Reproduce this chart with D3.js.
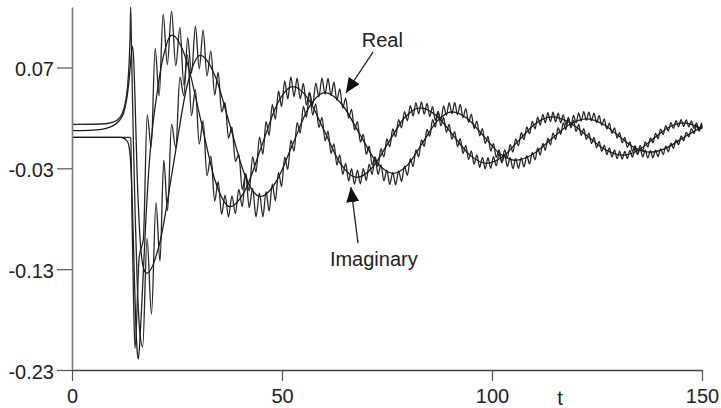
<!DOCTYPE html>
<html><head><meta charset="utf-8">
<script src="https://cdn.jsdelivr.net/npm/d3@7"></script>
<style>body{margin:0;background:#fff}svg{display:block}</style>
</head><body><svg id="c" width="721" height="408"></svg>
<script>
const xTicks = [0, 50, 100, 150];
const yTicks = [0.07, -0.03, -0.13, -0.23];
const yTickLabels = ["0.07", "-0.03", "-0.13", "-0.23"];

const realSmooth = [[0,0.0073],[4,0.0076],[7,0.0086],[9,0.0108],[10.5,0.0142],[11.5,0.0185],[12.3,0.025],[13.0,0.038],[13.6,0.058],[14.1,0.082],[14.4,0.091],[14.75,0.072],[15.1,0.025],[15.5,-0.035],[16.0,-0.085],[16.5,-0.115],[17.1,-0.13],[17.8,-0.134],[20.975,-0.1024],[24.15,-0.026],[27.325,0.0504],[30.5,0.082],[34.075,0.0615],[37.65,0.012],[41.225,-0.0375],[44.8,-0.058],[48.65,-0.0429],[52.5,-0.0065],[56.35,0.0299],[60.2,0.045],[64.275,0.0333],[68.35,0.005],[72.425,-0.0233],[76.5,-0.035],[80.0,-0.0261],[83.5,-0.0045],[87.0,0.0171],[90.5,0.026],[94.25,0.019],[98.0,0.002],[101.75,-0.015],[105.5,-0.022],[109.75,-0.016],[114.0,-0.0015],[118.25,0.013],[122.5,0.019],[126.275,0.0142],[130.05,0.0025],[133.825,-0.0092],[137.6,-0.014],[141.325,-0.0102],[145.05,-0.001],[148.775,0.0082],[150,0.0102]];

const imagSmooth = [[0,0.0007],[11.5,0.0007],[12.3,0.0],[12.9,-0.002],[13.4,-0.0052],[13.98,-0.025],[14.4,-0.07],[14.8,-0.13],[15.2,-0.185],[15.5,-0.21],[15.8,-0.219],[16.3,-0.19],[16.9,-0.14],[17.6,-0.08],[18.4,-0.025],[19.3,0.015],[20.2,0.043],[21.2,0.07],[22.3,0.09],[23.2,0.1],[23.8,0.102],[27.25,0.0771],[30.7,0.017],[34.15,-0.0431],[37.6,-0.068],[41.35,-0.0506],[45.1,-0.0085],[48.85,0.0336],[52.6,0.051],[56.4,0.0378],[60.2,0.006],[64.0,-0.0258],[67.8,-0.039],[71.575,-0.0289],[75.35,-0.0045],[79.125,0.0199],[82.9,0.030],[86.85,0.0219],[90.8,0.0025],[94.75,-0.0169],[98.7,-0.025],[102.575,-0.0183],[106.45,-0.002],[110.325,0.0143],[114.2,0.021],[118.45,0.0154],[122.7,0.002],[126.95,-0.0114],[131.2,-0.017],[134.775,-0.0123],[138.35,-0.001],[141.925,0.0103],[145.5,0.015],[148,0.0129],[150,0.0092]];

const realOscHead = [[0,0.0136],[5,0.0137],[8,0.0142],[9.5,0.0155],[10.8,0.018],[11.8,0.023],[12.6,0.033],[13.2,0.05],[13.6,0.075],[13.85,0.105],[13.97,0.13],[14.2,0.08],[14.6,0.0],[15.0,-0.07],[15.5,-0.14],[16.1,-0.19],[16.83,-0.207],[17.87,-0.0995],[18.92,-0.1746],[20.0,-0.064],[20.95,-0.122],[21.85,-0.022],[22.75,-0.072]];

const imagOscHead = [[0,0.0007],[13.7,0.0007],[13.98,0.0],[14.3,-0.08],[14.65,-0.16],[15.0,-0.2085],[16.0,-0.118],[17.0,-0.10],[17.9,0.023],[18.85,-0.009],[19.8,0.089],[20.75,0.042],[21.7,0.123],[22.7,0.073]];

const rippleT = [23.7,24.7,25.7,26.62,27.54,28.46,29.38,30.30,31.22,32.14,33.06,33.98,
34.80,35.62,36.44,37.26,38.08,38.90,39.72,40.54,41.36,42.18,43.00,43.82,44.64,45.46,
46.20,46.94,47.68,48.42,49.16,49.90,50.64,51.38,52.12,52.86,53.60,54.34,55.08,55.82,56.56,57.30,58.04,58.78,59.52,60.26,
60.96,61.66,62.36,63.06,63.76,64.46,65.16,65.86,66.56,67.26,67.96,68.66,69.36,70.06,70.76,71.46,72.16,72.86,73.56,74.26,74.96,75.66,76.36,77.06,77.76,78.46,79.16,79.86,80.56,
81.22,81.88,82.54,83.20,83.86,84.52,85.18,85.84,86.50,87.16,87.82,88.48,89.14,89.80,90.46,91.12,91.78,92.44,93.10,93.76,94.42,95.08,95.74,96.40,97.06,97.72,98.38,99.04,99.70,100.36,101.02,101.68,102.34,103.00,103.66,104.32,104.98,105.64,106.30,106.96,107.62,108.28,108.94,109.60,110.26,
110.87,111.48,112.09,112.70,113.31,113.92,114.53,115.14,115.75,116.36,116.97,117.58,118.19,118.80,119.41,120.02,120.63,121.24,121.85,122.46,123.07,123.68,124.29,124.90,125.51,126.12,126.73,127.34,127.95,128.56,129.17,129.78,130.39,131.00,131.61,132.22,132.83,133.44,134.05,134.66,135.27,135.88,136.49,137.10,137.71,138.32,138.93,139.54,140.15,140.76,141.37,141.98,142.59,143.20,143.81,144.42,145.03,145.64,146.25,146.86,147.47,148.08,148.69,149.30,149.91];

const realOscV = [0.0137,-0.0096,0.0606,0.0418,0.0995,0.0645,0.111,0.0687,0.1071,0.0617,0.0863,0.0427,
0.0655,0.0261,0.0351,0.0001,0.0109,-0.0231,-0.0162,-0.051,-0.0356,-0.069,-0.05,-0.078,-0.0547,-0.078,
-0.053,-0.0724,-0.0457,-0.0622,-0.034,-0.048,-0.0189,-0.0311,-0.002,-0.013,0.0152,0.0052,0.0313,0.0209,0.045,0.033,0.0546,0.0409,0.0595,0.0436,
0.0592,0.0422,0.0555,0.0375,0.0489,0.0297,0.0397,0.0198,0.0285,0.0082,0.0163,-0.004,0.0037,-0.0161,-0.008,-0.0267,-0.0186,-0.0359,-0.0266,-0.0424,-0.0319,-0.046,-0.034,-0.0463,-0.0326,-0.0431,-0.028,-0.0369,-0.0205,
-0.0283,-0.0116,-0.0186,-0.0017,-0.0082,0.0086,0.0019,0.0182,0.0109,0.0263,0.018,0.032,0.0226,0.0351,0.0242,0.0354,0.0232,0.0333,0.0203,0.0293,0.0156,0.0237,0.0093,0.0169,0.0022,0.0093,-0.0053,0.0017,-0.0128,-0.0055,-0.0191,-0.0118,-0.0244,-0.0166,-0.0282,-0.0195,-0.0302,-0.0204,-0.03,-0.0196,-0.0285,-0.0175,-0.0255,-0.0141,-0.0216,
-0.0098,-0.017,-0.0052,-0.0121,-0.0001,-0.0067,0.0052,-0.0014,0.0103,0.0038,0.0151,0.0083,0.0191,0.0122,0.0226,0.015,0.0249,0.0169,0.0261,0.0176,0.0258,0.0172,0.0247,0.0155,0.0223,0.0127,0.019,0.009,0.0149,0.0046,0.0102,0.0,0.0054,-0.0047,0.0006,-0.0092,-0.0037,-0.0132,-0.0075,-0.0164,-0.0102,-0.0187,-0.0119,-0.0197,-0.0125,-0.0196,-0.0119,-0.0184,-0.0104,-0.0164,-0.0081,-0.0136,-0.005,-0.0102,-0.0017,-0.0065,0.0022,-0.0027,0.0059,0.0011,0.0094,0.0045,0.0125,0.0072,0.0149];

const imagOscV = [0.126,0.0717,0.1095,0.0527,0.0825,0.0224,0.0481,-0.0059,0.0174,-0.0373,-0.018,-0.0624,
-0.0431,-0.0757,-0.0565,-0.078,-0.0573,-0.0749,-0.0508,-0.068,-0.0355,-0.0525,-0.0187,-0.0335,0.0009,-0.0159,
0.0164,0.0027,0.0331,0.0187,0.0469,0.0312,0.0566,0.0389,0.0608,0.041,0.0594,0.039,0.0543,0.0326,0.0455,0.0228,0.034,0.0106,0.0206,-0.0027,
0.0068,-0.0151,-0.0057,-0.0266,-0.0167,-0.0361,-0.0251,-0.0426,-0.0303,-0.0458,-0.0319,-0.0454,-0.0303,-0.0422,-0.0259,-0.0361,-0.0192,-0.0281,-0.0106,-0.0187,-0.0009,-0.0086,0.009,0.0012,0.0184,0.0101,0.0263,0.0171,0.0322,
0.0219,0.0352,0.024,0.0359,0.0237,0.0344,0.0214,0.0312,0.0175,0.0265,0.0122,0.0204,0.0057,0.0136,-0.0013,0.0065,-0.0085,-0.0006,-0.0152,-0.0072,-0.0212,-0.0127,-0.0259,-0.0167,-0.029,-0.0191,-0.0304,-0.0195,-0.0299,-0.0184,-0.0276,-0.0158,-0.024,-0.0118,-0.0193,-0.0066,-0.0138,-0.0009,-0.0076,0.0053,-0.0015,0.0112,0.0043,0.0165,0.0092,
0.0207,0.0129,0.0236,0.0152,0.0252,0.0164,0.0256,0.0161,0.0247,0.015,0.0231,0.0129,0.0205,0.0101,0.0172,0.0066,0.0135,0.0027,0.0094,-0.0015,0.0048,-0.0055,0.0006,-0.0096,-0.0034,-0.0132,-0.0069,-0.0164,-0.0097,-0.0188,-0.0118,-0.0203,-0.0129,-0.0209,-0.0131,-0.0204,-0.0122,-0.0189,-0.0103,-0.0163,-0.0073,-0.013,-0.0037,-0.009,0.0003,-0.0047,0.0046,-0.0005,0.0088,0.0036,0.0124,0.007,0.0153,0.0096,0.0173,0.0112,0.0183,0.0116,0.0181,0.0111,0.017,0.0095,0.015,0.007,0.0122];

const realOscEnd = [150, 0.0105];
const imagOscEnd = [150, 0.0095];

const annLabels = [{text: "Real", t: 69.0, v: 0.0905}, {text: "Imaginary", t: 61.4, v: -0.127}];
const annArrows = [{from: [71.7, 0.0854], to: [65.2, 0.0447]}, {from: [68.1, -0.1041], to: [66.4, -0.0486]}];

const svg = d3.select("#c");
const x = d3.scaleLinear().domain([0, 150]).range([72, 702]);
const y = d3.scaleLinear().domain([-0.23, 0.13]).range([370, 7]);
const FONT = "'Liberation Sans', Arial, Helvetica, sans-serif";

const realOsc = realOscHead.concat(rippleT.map((t, i) => [t, realOscV[i]])).concat([realOscEnd]);
const imagOsc = imagOscHead.concat(rippleT.map((t, i) => [t, imagOscV[i]])).concat([imagOscEnd]);

const line = d3.line().x(d => x(d[0])).y(d => y(d[1])).curve(d3.curveMonotoneX);

const g = svg.append("g");
[realOsc, imagOsc].forEach(s => {
  g.append("path").attr("d", line(s)).attr("fill", "none")
    .attr("stroke", "#262626").attr("stroke-width", 1.3).attr("stroke-linejoin", "round");
});
[realSmooth, imagSmooth].forEach(s => {
  g.append("path").attr("d", line(s)).attr("fill", "none")
    .attr("stroke", "#1a1a1a").attr("stroke-width", 1.25);
});

// axes
const yAxis = d3.axisLeft(y).tickValues(yTicks).tickSize(15).tickSizeOuter(0).tickPadding(3)
  .tickFormat((d, i) => yTickLabels[i]);
const ya = svg.append("g").attr("transform", `translate(${x(0)},0)`).call(yAxis);
ya.select(".domain").attr("stroke", "#7a7a7a").attr("stroke-width", 1.6);
ya.selectAll(".tick line").attr("stroke", "#555").attr("stroke-width", 1.2);
ya.selectAll(".tick text").attr("font-family", FONT).attr("font-size", 20).attr("fill", "#222").attr("dy", "0.42em");

const xAxis = d3.axisBottom(x).tickValues(xTicks).tickSize(11).tickSizeOuter(0).tickPadding(8)
  .tickFormat(d3.format("d"));
const xa = svg.append("g").attr("transform", `translate(0,${y(-0.23)})`).call(xAxis);
xa.select(".domain").attr("stroke", "#444").attr("stroke-width", 1.3);
xa.selectAll(".tick line").attr("stroke", "#555").attr("stroke-width", 1.2);
xa.selectAll(".tick text").attr("font-family", FONT).attr("font-size", 20).attr("fill", "#222");

svg.append("text").attr("x", 560).attr("y", 405).attr("text-anchor", "middle")
  .attr("font-family", FONT).attr("font-size", 20).attr("fill", "#222").text("t");

// annotations
svg.append("defs").append("marker").attr("id", "ah")
  .attr("markerUnits", "userSpaceOnUse").attr("markerWidth", 16).attr("markerHeight", 13)
  .attr("refX", 15).attr("refY", 6.5).attr("orient", "auto")
  .append("path").attr("d", "M0,0 L15,6.5 L0,13 Z").attr("fill", "#111");
annArrows.forEach(a => {
  svg.append("line").attr("x1", x(a.from[0])).attr("y1", y(a.from[1]))
    .attr("x2", x(a.to[0])).attr("y2", y(a.to[1]))
    .attr("stroke", "#222").attr("stroke-width", 1.3).attr("marker-end", "url(#ah)");
});
annLabels.forEach(l => {
  svg.append("text").attr("x", x(l.t)).attr("y", y(l.v))
    .attr("font-family", FONT).attr("font-size", 20).attr("fill", "#222").text(l.text);
});
</script></body></html>
